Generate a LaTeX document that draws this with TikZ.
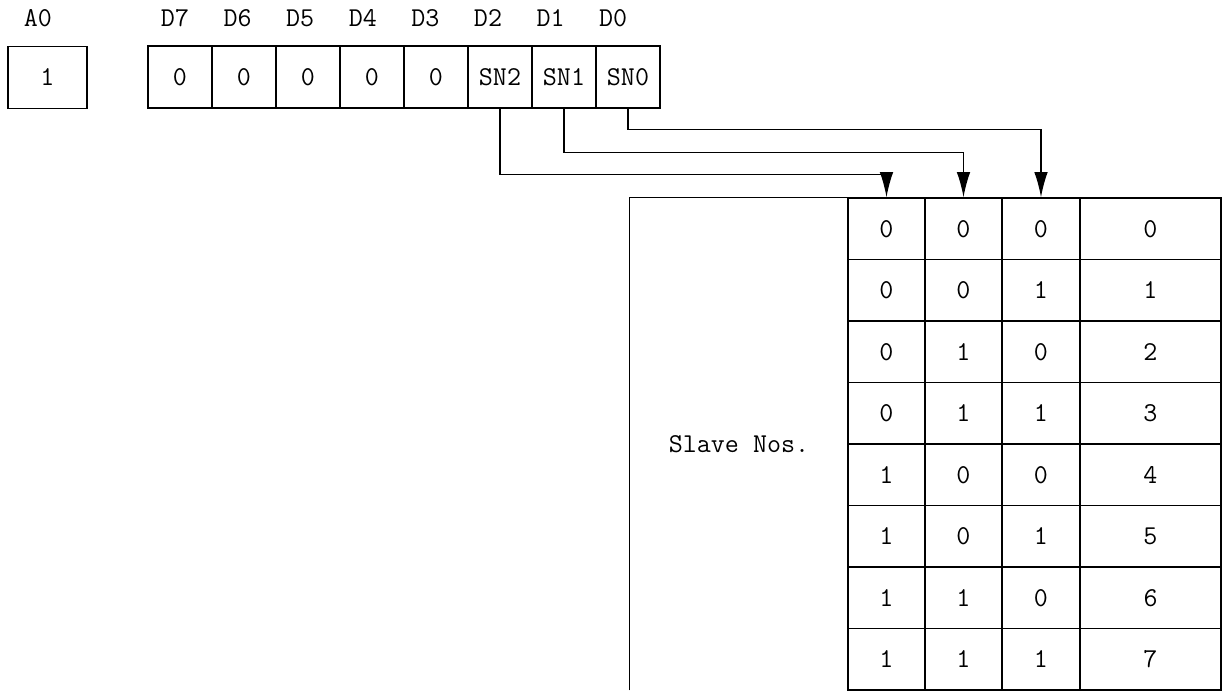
\documentclass[tikz,border=0pt]{standalone}
\usepackage{fontspec}
\usetikzlibrary{positioning, arrows.meta}

\tikzset{
	cella/.style={draw, rectangle, line width=0.9pt, inner sep=0pt, minimum height=1.24cm, font=\ttfamily\fontsize{15.5}{18}\selectfont},
	bitcella/.style={cella, minimum height=1.23cm},
	segnale/.style={-{Latex[length=5mm, width=2.7mm]}, line width=0.8pt},
	etichetta/.style={inner sep=0pt, font=\ttfamily\fontsize{15.5}{18}\selectfont}
}

\begin{document}
\begin{tikzpicture}[x=0.02cm, y=-0.02cm]
		\useasboundingbox (0,0) rectangle (1225,691);
		
		%Rappresento il bit A0
		\node(AZero) at (47.5,77.5) [cella, minimum width=1.58cm]{1};
		\node(LabelAZero) at (38,18) [etichetta]{A0};
		
		%Rappresento il registro dati
		\foreach \d/\t [count=\k from 0] in {7/0,6/0,5/0,4/0,3/0,2/SN2,1/SN1,0/SN0}{
			\node(Reg\d) at ({180+64*\k},77) [cella, minimum width=1.28cm]{\t};
			\node(LabelD\d) at ({175+62.6*\k},18) [etichetta]{D\d};
		}
		
		%Rappresento la tabella
		\node(SlaveNos) at (739,444) [rectangle, etichetta, minimum width=4.36cm, minimum height=9.84cm]{Slave Nos.};
		\draw[line width=0.9pt] (SlaveNos.south west) -- (SlaveNos.north west) -- (SlaveNos.north east);
		\foreach \a/\b/\c [count=\r from 0] in {0/0/0,0/0/1,0/1/0,0/1/1,1/0/0,1/0/1,1/1/0,1/1/1}{
			\node(SNdue\r) at (886.5,{228.75+61.5*\r}) [bitcella, minimum width=1.54cm]{\a};
			\node(SNuno\r) at (963.5,{228.75+61.5*\r}) [bitcella, minimum width=1.54cm]{\b};
			\node(SNzero\r) at (1041,{228.75+61.5*\r}) [bitcella, minimum width=1.56cm]{\c};
			\node(Slave\r) at (1150.5,{228.75+61.5*\r}) [bitcella, minimum width=2.82cm]{\r};
		}
		
		%Rappresento i collegamenti
		\draw[segnale] (Reg2.south) -- ++(0,66) -| (SNdue0.north);
		\draw[segnale] (Reg1.south) -- ++(0,44) -| (SNuno0.north);
		\draw[segnale] (Reg0.south) -- ++(0,21) -| (SNzero0.north);
		
\end{tikzpicture}
\end{document}
